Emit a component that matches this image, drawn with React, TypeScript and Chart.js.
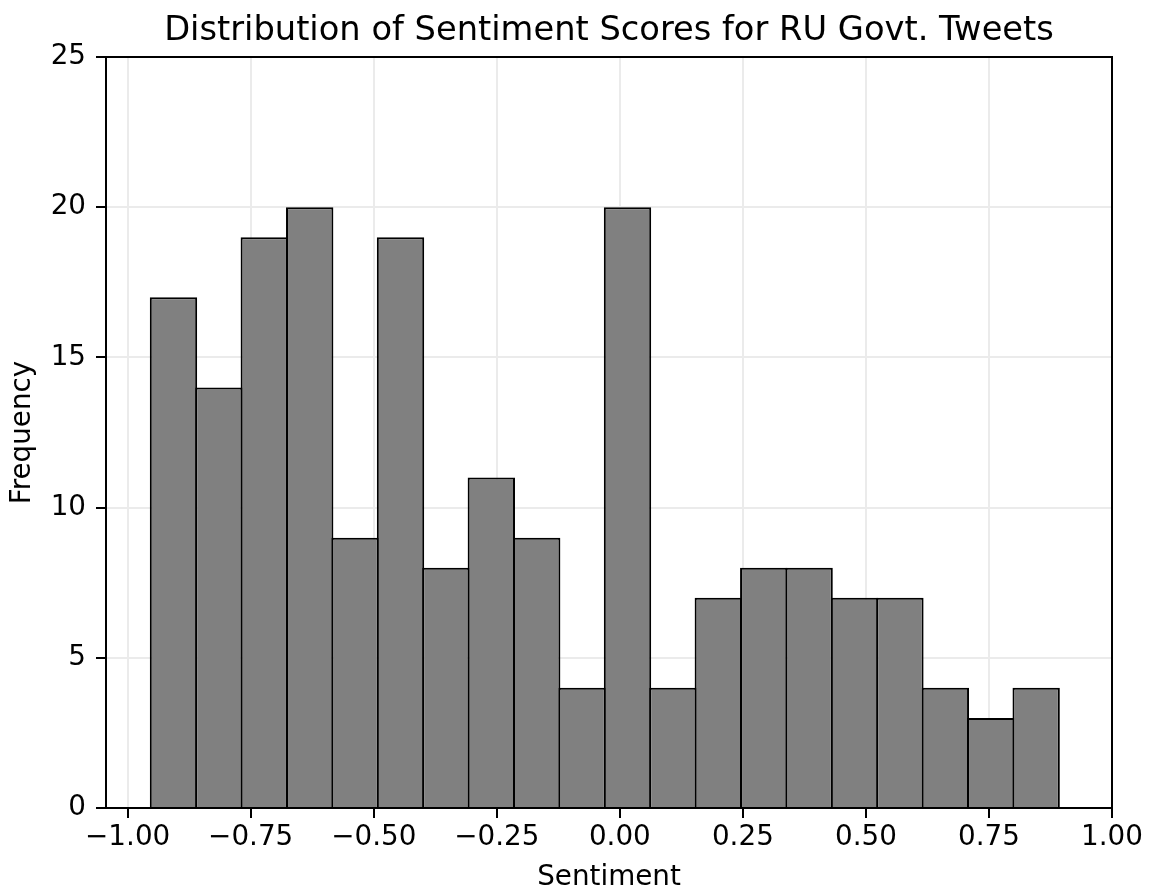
import React, { useEffect, useRef } from "react";
import { Chart, registerables } from "chart.js";

Chart.register(...registerables);

const TITLE = "Distribution of Sentiment Scores for RU Govt. Tweets";
const X_LABEL = "Sentiment";
const Y_LABEL = "Frequency";

// histogram bin centres (sentiment) and counts
const binCenters = [
  -0.9069, -0.8146, -0.7224, -0.6301, -0.5379, -0.4456, -0.3534, -0.2611, -0.1689, -0.0766,
  0.0156, 0.1079, 0.2001, 0.2924, 0.3846, 0.4769, 0.5691, 0.6614, 0.7536, 0.8459,
];
const frequencies = [17, 14, 19, 20, 9, 19, 8, 11, 9, 4, 20, 4, 7, 8, 8, 7, 7, 4, 3, 4];

const xTicks = [-1, -0.75, -0.5, -0.25, 0, 0.25, 0.5, 0.75, 1];
const yTicks = [0, 5, 10, 15, 20, 25];

const X_MIN = -1.044;
const X_MAX = 1.0;
const Y_MIN = 0;
const Y_MAX = 25;

const FONT = "'DejaVu Sans', sans-serif";
const TICK_SIZE = 27.8;
const TITLE_SIZE = 33.7;

const fmtX = (v: number) => {
  const s = Math.abs(v).toFixed(2);
  return v < 0 ? "\u2212" + s : s;
};

const framePlugin = {
  id: "frameAndTitle",
  afterDraw(chart: any) {
    const { ctx, chartArea } = chart;
    const { left, right, top, bottom } = chartArea;
    ctx.save();
    ctx.strokeStyle = "#000";
    ctx.lineWidth = 2;
    ctx.beginPath();
    ctx.moveTo(left, bottom);
    ctx.lineTo(left, top);
    ctx.lineTo(right, top);
    ctx.lineTo(right, bottom);
    ctx.stroke();
    ctx.font = `${TITLE_SIZE}px ${FONT}`;
    ctx.fillStyle = "#000";
    ctx.textAlign = "center";
    ctx.textBaseline = "alphabetic";
    ctx.fillText(TITLE, (left + right) / 2, 40);
    ctx.restore();
  },
};

export default function App() {
  const canvasRef = useRef<HTMLCanvasElement | null>(null);

  useEffect(() => {
    if (!canvasRef.current) return;
    Chart.defaults.font.family = FONT;
    Chart.defaults.color = "#000";
    const chart = new Chart(canvasRef.current, {
      type: "bar",
      data: {
        datasets: [
          {
            data: binCenters.map((x, i) => ({ x, y: frequencies[i] })),
            backgroundColor: "#808080",
            borderColor: "#000",
            borderWidth: 2,
            barPercentage: 1.044,
            categoryPercentage: 1,
          } as any,
        ],
      },
      options: {
        animation: false,
        responsive: false,
        devicePixelRatio: 1,
        layout: { padding: { left: 0, right: 40, top: 57, bottom: 0 } },
        plugins: {
          legend: { display: false },
          tooltip: { enabled: false },
          title: { display: false },
        },
        scales: {
          x: {
            type: "linear",
            min: X_MIN,
            max: X_MAX,
            offset: false,
            afterBuildTicks: (s: any) => {
              s.ticks = xTicks.map((v) => ({ value: v }));
            },
            afterFit: (s: any) => {
              s.height = 86;
            },
            grid: {
              offset: false,
              color: "#ebebeb",
              lineWidth: 2,
              drawTicks: true,
              tickLength: 10,
              tickColor: "#000",
              tickWidth: 2,
            },
            border: { display: true, color: "#000", width: 2 },
            ticks: {
              padding: 3,
              autoSkip: false,
              maxRotation: 0,
              color: "#000",
              font: { size: TICK_SIZE },
              callback: (v: any) => fmtX(Number(v)),
            },
            title: {
              display: true,
              text: X_LABEL,
              color: "#000",
              font: { size: TICK_SIZE },
              padding: { top: 0, bottom: 0 },
            },
          } as any,
          y: {
            type: "linear",
            min: Y_MIN,
            max: Y_MAX,
            afterBuildTicks: (s: any) => {
              s.ticks = yTicks.map((v) => ({ value: v }));
            },
            afterFit: (s: any) => {
              s.width = 106;
            },
            grid: {
              color: "#ebebeb",
              lineWidth: 2,
              drawTicks: true,
              tickLength: 10,
              tickColor: "#000",
              tickWidth: 2,
            },
            border: { display: true, color: "#000", width: 2 },
            ticks: {
              padding: 10,
              color: "#000",
              font: { size: TICK_SIZE },
              callback: (v: any) => String(v),
            },
            title: {
              display: true,
              text: Y_LABEL,
              color: "#000",
              font: { size: TICK_SIZE },
              padding: { top: 6, bottom: 0 },
            },
          } as any,
        },
      },
      plugins: [framePlugin],
    });
    return () => chart.destroy();
  }, []);

  return (
    <div style={{ position: "absolute", left: 0, top: 0, width: 1152, height: 894, background: "#fff" }}>
      <canvas ref={canvasRef} width={1152} height={894} style={{ display: "block" }} />
    </div>
  );
}
